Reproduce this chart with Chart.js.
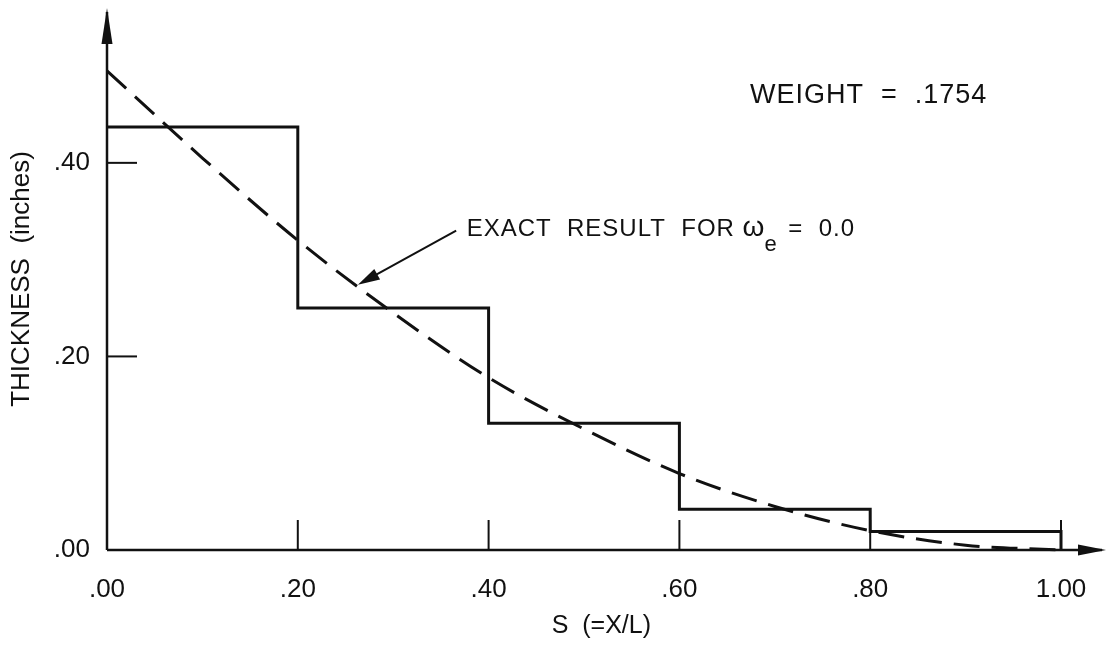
<!DOCTYPE html>
<html>
<head>
<meta charset="utf-8">
<script src="https://cdn.jsdelivr.net/npm/chart.js@4.4.1/dist/chart.umd.min.js"></script>
<style>
  html, body { margin: 0; padding: 0; background: #fff; }
  #wrap { width: 1109px; height: 647px; }
</style>
</head>
<body>
<div id="wrap"><canvas id="thicknessChart"></canvas></div>
<script>
// segment boundaries along the beam, S = X/L
const stepEdges = [0.0, 0.2, 0.4, 0.6, 0.8, 1.0];
// thickness of each of the five segments (inches)
const stepThickness = [0.437, 0.250, 0.131, 0.042, 0.019];

// exact continuous result for omega_e = 0.0
const exactS = [0.0, 0.1, 0.2, 0.3, 0.4, 0.5, 0.6, 0.7, 0.8, 0.9, 1.0];
const exactThickness = [0.495, 0.405, 0.320, 0.245, 0.178, 0.125, 0.079, 0.045, 0.020, 0.005, 0.000];

const xTickValues = [0.0, 0.2, 0.4, 0.6, 0.8, 1.0];
const xTickLabels = ['.00', '.20', '.40', '.60', '.80', '1.00'];
const yTickValues = [0.0, 0.2, 0.4];
const yTickLabels = ['.00', '.20', '.40'];

const weightText = 'WEIGHT  =  .1754';

const INK = '#111';
const FONT = "'Liberation Sans', Arial, sans-serif";

Chart.defaults.font.family = FONT;
Chart.defaults.color = INK;

// stepped profile: each edge carries the thickness of the segment to its right,
// the last edge drops back to zero
const stepPoints = stepEdges.map((s, i) => ({
    x: s,
    y: i < stepThickness.length ? stepThickness[i] : 0
}));
const exactPoints = exactS.map((s, i) => ({ x: s, y: exactThickness[i] }));

function arrowHead(ctx, x0, y0, x1, y1, len, half) {
    const a = Math.atan2(y1 - y0, x1 - x0);
    ctx.beginPath();
    ctx.moveTo(x1, y1);
    ctx.lineTo(x1 - len * Math.cos(a) + half * Math.sin(a), y1 - len * Math.sin(a) - half * Math.cos(a));
    ctx.lineTo(x1 - len * Math.cos(a) - half * Math.sin(a), y1 - len * Math.sin(a) + half * Math.cos(a));
    ctx.closePath();
    ctx.fill();
}

// axes with arrows, inward tick marks and the notes on the plot
const decorations = {
    id: 'decorations',
    afterDraw(chart) {
        const ctx = chart.ctx;
        const xs = chart.scales.x, ys = chart.scales.y;
        const area = chart.chartArea;
        const x0 = xs.getPixelForValue(0), y0 = ys.getPixelForValue(0);

        ctx.save();
        ctx.strokeStyle = INK;
        ctx.fillStyle = INK;
        ctx.lineCap = 'butt';

        // y axis up to the arrow tip
        ctx.lineWidth = 2.5;
        ctx.beginPath();
        ctx.moveTo(x0, y0);
        ctx.lineTo(x0, area.top + 4);
        ctx.stroke();
        arrowHead(ctx, x0, y0, x0, area.top, 36, 5.5);

        // x axis past the last station
        const xEnd = chart.width - 3;
        ctx.beginPath();
        ctx.moveTo(x0, y0);
        ctx.lineTo(xEnd - 4, y0);
        ctx.stroke();
        arrowHead(ctx, x0, y0, xEnd, y0, 28, 5.5);

        // tick marks pointing into the plot
        ctx.lineWidth = 2;
        xTickValues.forEach(v => {
            if (v === 0) return;
            const px = xs.getPixelForValue(v);
            ctx.beginPath();
            ctx.moveTo(px, y0);
            ctx.lineTo(px, y0 - 30);
            ctx.stroke();
        });
        yTickValues.forEach(v => {
            if (v === 0) return;
            const py = ys.getPixelForValue(v);
            ctx.beginPath();
            ctx.moveTo(x0, py);
            ctx.lineTo(x0 + 30, py);
            ctx.stroke();
        });

        // weight note
        ctx.font = '27px ' + FONT;
        ctx.letterSpacing = '1px';
        ctx.textAlign = 'left';
        ctx.textBaseline = 'alphabetic';
        ctx.fillText(weightText, xs.getPixelForValue(0.674), ys.getPixelForValue(0.462));

        // label for the dashed curve
        let tx = xs.getPixelForValue(0.377);
        const ty = ys.getPixelForValue(0.324);
        ctx.font = '24px ' + FONT;
        ctx.letterSpacing = '1px';
        const main = 'EXACT  RESULT  FOR ';
        ctx.fillText(main, tx, ty);
        tx += ctx.measureText(main).width;
        ctx.font = '28px ' + FONT;
        ctx.letterSpacing = '0px';
        ctx.fillText('\u03C9', tx, ty);
        tx += ctx.measureText('\u03C9').width;
        ctx.font = '22px ' + FONT;
        ctx.fillText('e', tx, ty + 15);
        tx += ctx.measureText('e').width + 4;
        ctx.font = '24px ' + FONT;
        ctx.letterSpacing = '1px';
        ctx.fillText(' =  0.0', tx, ty);

        // pointer from the label to the curve
        const ax0 = xs.getPixelForValue(0.366), ay0 = ys.getPixelForValue(0.330);
        const ax1 = xs.getPixelForValue(0.263), ay1 = ys.getPixelForValue(0.274);
        ctx.lineWidth = 2;
        ctx.beginPath();
        ctx.moveTo(ax0, ay0);
        ctx.lineTo(ax1 + (ax0 - ax1) * 0.15, ay1 + (ay0 - ay1) * 0.15);
        ctx.stroke();
        arrowHead(ctx, ax0, ay0, ax1, ay1, 22, 6);

        ctx.restore();
    }
};

new Chart(document.getElementById('thicknessChart'), {
    type: 'scatter',
    data: {
        datasets: [{
            label: 'Segment thickness',
            data: stepPoints,
            showLine: true,
            stepped: 'before',
            borderColor: INK,
            borderWidth: 3,
            pointRadius: 0,
            clip: 6
        }, {
            label: 'Exact result',
            data: exactPoints,
            showLine: true,
            cubicInterpolationMode: 'monotone',
            borderColor: INK,
            borderWidth: 3,
            borderDash: [26, 12],
            pointRadius: 0,
            clip: 6
        }]
    },
    options: {
        responsive: true,
        maintainAspectRatio: false,
        animation: false,
        layout: { padding: { top: 8, right: 48, left: 0, bottom: 0 } },
        plugins: {
            legend: { display: false },
            tooltip: { enabled: false }
        },
        scales: {
            x: {
                type: 'linear',
                min: 0,
                max: 1.0,
                afterBuildTicks: scale => { scale.ticks = xTickValues.map(v => ({ value: v })); },
                afterFit: scale => {
                    scale.height = 97;
                    scale.paddingLeft = 0;
                    scale.paddingRight = 0;
                },
                grid: { display: false, drawTicks: false },
                border: { display: false },
                ticks: {
                    padding: 24,
                    maxRotation: 0,
                    font: { size: 26 },
                    callback: (v, i) => xTickLabels[i]
                },
                title: {
                    display: true,
                    text: '     S  (=X/L)',
                    font: { size: 25 },
                    padding: { top: 0, bottom: 6 }
                }
            },
            y: {
                type: 'linear',
                min: 0,
                max: 0.56,
                afterBuildTicks: scale => { scale.ticks = yTickValues.map(v => ({ value: v })); },
                afterFit: scale => {
                    scale.width = 107;
                    scale.paddingTop = 0;
                    scale.paddingBottom = 0;
                },
                grid: { display: false, drawTicks: false },
                border: { display: false },
                ticks: {
                    padding: 17,
                    font: { size: 26 },
                    callback: (v, i) => yTickLabels[i]
                },
                title: {
                    display: true,
                    text: 'THICKNESS  (inches)',
                    font: { size: 26 },
                    padding: { top: 6, bottom: 0 }
                }
            }
        }
    },
    plugins: [decorations]
});
</script>
</body>
</html>
